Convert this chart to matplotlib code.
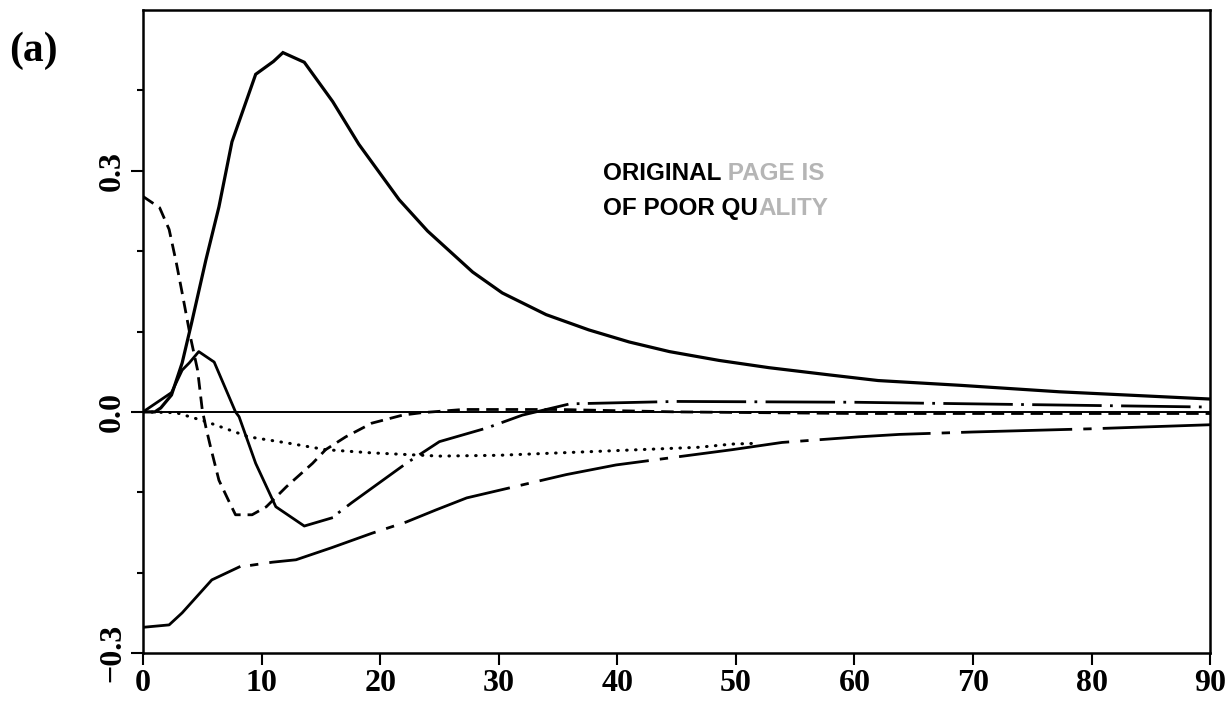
import matplotlib
matplotlib.use('Agg')
import matplotlib.pyplot as plt

# values
x_big = [0, 1, 1.5, 2.4, 3.3, 4.1, 5.3, 6.4, 7.5, 9.5, 11, 11.8, 13.6, 16, 18.2, 21.6, 24, 27.8,
         30.3, 34, 37.6, 41, 44.4, 48.6, 52.8, 57.9, 62, 69, 77.3, 90]
y_big = [0, 0, 0.005, 0.021, 0.061, 0.111, 0.189, 0.255, 0.336, 0.42, 0.436, 0.447, 0.435, 0.386,
         0.333, 0.264, 0.225, 0.174, 0.148, 0.121, 0.102, 0.087, 0.075, 0.064, 0.055, 0.046, 0.039,
         0.033, 0.025, 0.016]

x_dash = [0, 1.4, 2.2, 2.8, 3.3, 4, 4.6, 5, 5.3, 5.7, 6.4, 7.3, 7.8, 9.2, 10.4, 12.1, 14.3, 15.4,
          17.1, 19.3, 21.9, 23.5, 27, 35, 45, 60, 90]
y_dash = [0.268, 0.254, 0.227, 0.186, 0.148, 0.093, 0.052, 0.002, -0.019, -0.044, -0.085, -0.113,
          -0.128, -0.128, -0.118, -0.093, -0.064, -0.047, -0.031, -0.014, -0.004, -0.001, 0.003,
          0.003, 0.0, -0.002, -0.002]

x_dip = [0, 2.4, 3.3, 3.9, 4.7, 6, 7.8, 8.1, 9.5, 11.2, 13.6, 15.9, 17.6, 22.2, 25, 29, 32, 36,
         45, 60, 75, 90]
y_dip = [0, 0.024, 0.052, 0.061, 0.075, 0.062, 0, -0.006, -0.064, -0.118, -0.142, -0.132, -0.113,
         -0.064, -0.037, -0.02, -0.004, 0.010, 0.013, 0.012, 0.009, 0.006]

x_dot = [0, 2.8, 5.3, 8.9, 12.3, 15.4, 19.3, 25, 30, 38.5, 46.9, 49.7, 52]
y_dot = [0, -0.001, -0.012, -0.031, -0.039, -0.047, -0.051, -0.055, -0.054, -0.049, -0.044,
         -0.04, -0.039]

x_low = [0, 2.2, 3.3, 5.8, 8.1, 10.9, 12.9, 15.9, 19.3, 22.2, 24.7, 27.3, 35.7, 39.9, 49.7,
         53.9, 60.4, 63.8, 70, 80, 90]
y_low = [-0.268, -0.265, -0.25, -0.209, -0.193, -0.187, -0.184, -0.169, -0.151, -0.137, -0.122,
         -0.107, -0.078, -0.066, -0.047, -0.038, -0.031, -0.028, -0.025, -0.021, -0.016]

xticks = list(range(0, 91, 10))
yticks = [-0.3, 0.0, 0.3]
yticks_minor = [-0.2, -0.1, 0.1, 0.2, 0.4]
ytick_labels = ['\u22120.3', '0.0', '0.3']

plt.rcParams['lines.scale_dashes'] = False
serif = 'Liberation Serif'

fig = plt.figure(figsize=(12.31, 7.04), dpi=100)
ax = fig.add_axes([0.1162, 0.0724, 0.8668, 0.9134])

ax.axhline(0, color='black', lw=1.4)

ax.plot(x_big, y_big, color='black', lw=2.3, solid_joinstyle='miter')
ax.plot(x_dash, y_dash, color='black', lw=2.0, linestyle=(0, (9, 5)))
# the dip curve is drawn solid up to its minimum, dash-dot afterwards
ax.plot(x_dip[:12], y_dip[:12], color='black', lw=2.0)
ax.plot(x_dip[11:], y_dip[11:], color='black', lw=2.0, linestyle=(50, (50, 6, 2, 6)))
ax.plot(x_dot, y_dot, color='black', lw=2.2, linestyle=(0, (0.4, 6)), dash_capstyle='round')
ax.plot(x_low[:5], y_low[:5], color='black', lw=2.0)
ax.plot(x_low[4:], y_low[4:], color='black', lw=2.0, linestyle=(80, (80, 8, 6, 8)))

ax.set_xlim(0, 90)
ax.set_ylim(-0.3, 0.5)
ax.set_xticks(xticks)
ax.set_xticklabels([str(v) for v in xticks])
ax.set_yticks(yticks)
ax.set_yticklabels(ytick_labels)
ax.set_yticks(yticks_minor, minor=True)

for s in ax.spines.values():
    s.set_linewidth(1.8)
ax.tick_params(which='major', direction='out', length=8.5, width=1.5, pad=3)
ax.tick_params(which='minor', direction='out', length=4.5, width=1.5)
for lab in ax.get_xticklabels():
    lab.set_fontfamily(serif)
    lab.set_fontweight('bold')
    lab.set_fontsize(23)
for lab in ax.get_yticklabels():
    lab.set_fontfamily(serif)
    lab.set_fontweight('bold')
    lab.set_fontsize(23)
    lab.set_rotation(90)
    lab.set_va('center')
    lab.set_ha('right')

fig.text(0.027, 0.928, '(a)', fontfamily=serif, fontweight='bold', fontsize=30,
         ha='center', va='center')

t1 = ax.text(38.8, 0.289, 'ORIGINAL', fontfamily='Liberation Sans', fontweight='bold',
             fontsize=17.5, va='baseline', ha='left')
ax.annotate(' PAGE IS', xy=(1, 0), xycoords=t1, va='bottom', ha='left', color='#b5b5b5',
            fontfamily='Liberation Sans', fontweight='bold', fontsize=17.5)
t2 = ax.text(38.8, 0.245, 'OF POOR QU', fontfamily='Liberation Sans', fontweight='bold',
             fontsize=17.5, va='baseline', ha='left')
ax.annotate('ALITY', xy=(1, 0), xycoords=t2, va='bottom', ha='left', color='#b5b5b5',
            fontfamily='Liberation Sans', fontweight='bold', fontsize=17.5)

fig.savefig('out.png', dpi=100)
